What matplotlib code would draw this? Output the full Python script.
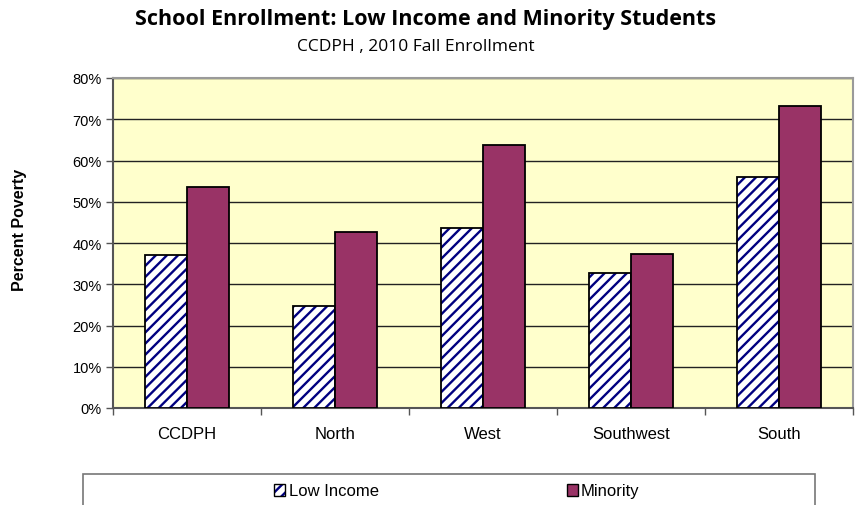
import matplotlib.pyplot as plt
import numpy as np
from matplotlib.patches import Rectangle, Patch
from matplotlib.legend_handler import HandlerTuple
from matplotlib.ticker import FixedLocator, PercentFormatter

regions = ['CCDPH', 'North', 'West', 'Southwest', 'South']
low_income = [37.1, 24.8, 43.6, 32.7, 56.1]
minority = [53.5, 42.7, 63.8, 37.3, 73.3]
y_ticks = [0, 10, 20, 30, 40, 50, 60, 70, 80]

NAVY = '#000080'
PLUM = '#993366'
plt.rcParams['hatch.linewidth'] = 1.7

fig = plt.figure(figsize=(8.58, 5.06), dpi=100)
fig.patch.set_facecolor('white')
ax = fig.add_axes([113 / 858, 1 - 409 / 506, 740 / 858, 330 / 506])
ax.set_facecolor('#FFFFCC')

x = np.arange(len(regions))
w = 0.284
# hatch takes the edge colour, so fill the navy stripes first and outline after
ax.bar(x - w / 2, low_income, w, color='white', edgecolor=NAVY, linewidth=0,
       hatch='///', zorder=3)
ax.bar(x - w / 2, low_income, w, fill=False, edgecolor='black', linewidth=1.3, zorder=4)
ax.bar(x + w / 2, minority, w, color=PLUM, edgecolor='black', linewidth=1.3, zorder=4)

ax.set_xlim(-0.5, len(regions) - 0.5)
ax.set_ylim(0, 80)
ax.set_yticks(y_ticks)
ax.yaxis.set_major_formatter(PercentFormatter(decimals=0))
ax.yaxis.grid(True, color='#222222', linewidth=1.0, zorder=1)
ax.set_axisbelow(True)

ax.set_xticks(x)
ax.set_xticklabels(regions)
ax.xaxis.set_minor_locator(FixedLocator(np.arange(-0.5, len(regions), 1)))
ax.tick_params(axis='x', which='major', length=0, pad=13)
ax.tick_params(axis='x', which='minor', length=5, width=1, color='#555555', direction='out')
ax.tick_params(axis='y', length=5, width=1, color='#555555', direction='out', pad=3)
for lab in ax.get_yticklabels():
    lab.set_fontfamily('Liberation Sans')
    lab.set_fontsize(10.5)
for lab in ax.get_xticklabels():
    lab.set_fontfamily('Liberation Sans')
    lab.set_fontsize(12)

for side in ['top', 'right']:
    ax.spines[side].set_color('#9a9a9a')
    ax.spines[side].set_linewidth(1.5)
for side in ['left', 'bottom']:
    ax.spines[side].set_color('#555555')
    ax.spines[side].set_linewidth(1.5)

fig.text(20 / 858, 1 - 230 / 506, 'Percent Poverty', rotation=90, ha='center', va='center',
         fontsize=11.5, fontweight='bold', family='Liberation Sans')

fig.text(426 / 858, 1 - 20 / 506, 'School Enrollment: Low Income and Minority Students',
         ha='center', va='center', fontsize=15.5, fontweight='bold', family='Open Sans')
fig.text(416 / 858, 1 - 47 / 506, 'CCDPH , 2010 Fall Enrollment',
         ha='center', va='center', fontsize=12.5, family='Open Sans')

# legend box runs off the bottom edge
fig.patches.append(Rectangle((83 / 858, -0.05), (815 - 83) / 858, 0.05 + (506 - 475) / 506,
                             transform=fig.transFigure, facecolor='white',
                             edgecolor='#777777', linewidth=1.2))
low_handle = (Patch(facecolor='white', edgecolor=NAVY, linewidth=0, hatch='///'),
              Patch(fill=False, edgecolor='black', linewidth=1.0))
min_handle = Patch(facecolor=PLUM, edgecolor='black', linewidth=1.0)
fig.legend(handles=[low_handle, min_handle], labels=['Low Income', 'Minority'],
           handler_map={tuple: HandlerTuple(ndivide=1, pad=0)},
           loc='center', bbox_to_anchor=(457 / 858, 1 - 492 / 506),
           ncol=2, frameon=False, columnspacing=11.3, handlelength=0.65, handleheight=0.75,
           handletextpad=0.2, prop={'family': 'Liberation Sans', 'size': 12})

fig.savefig('out.png', dpi=100)
